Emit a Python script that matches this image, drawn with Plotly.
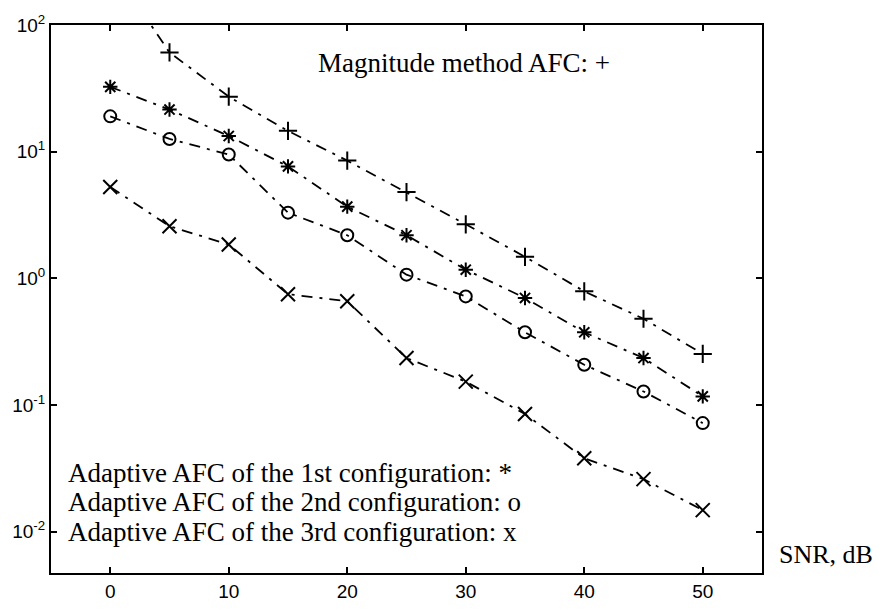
import plotly.graph_objects as go

snr = [0, 5, 10, 15, 20, 25, 30, 35, 40, 45, 50]
magnitude = [300, 60.7, 27.2, 14.6, 8.5, 4.8, 2.67, 1.48, 0.79, 0.48, 0.253]
adaptive1 = [32.5, 21.5, 13.3, 7.65, 3.68, 2.19, 1.17, 0.70, 0.375, 0.235, 0.117]
adaptive2 = [19.0, 12.6, 9.5, 3.3, 2.19, 1.07, 0.72, 0.375, 0.208, 0.128, 0.072]
adaptive3 = [5.26, 2.58, 1.85, 0.75, 0.66, 0.235, 0.153, 0.085, 0.038, 0.026, 0.0148]

x_ticks = [0, 10, 20, 30, 40, 50]
y_ticks = [0.01, 0.1, 1, 10, 100]
y_ticktext = ["10<sup>-2</sup>", "10<sup>-1</sup>", "10<sup>0</sup>", "10<sup>1</sup>", "10<sup>2</sup>"]

series = [
    (magnitude, "cross-thin-open", 13),
    (adaptive1, "asterisk-open", 12),
    (adaptive2, "circle-open", 12),
    (adaptive3, "x-thin-open", 14),
]

fig = go.Figure()
for vals, sym, size in series:
    fig.add_trace(go.Scatter(
        x=snr, y=vals, mode="lines+markers",
        line=dict(color="black", width=1.8, dash="11px,7px,3px,7px"),
        marker=dict(symbol=sym, size=size, color="black", line=dict(color="black", width=2)),
        showlegend=False, cliponaxis=True,
    ))

serif = "Liberation Serif, Times New Roman, serif"

annots = [
    ("Magnitude method AFC: +", 315, 63, 27),
    ("Adaptive AFC of the 1st configuration: *", 65, 480, 27),
    ("Adaptive AFC of the 2nd configuration: o", 65, 510, 27),
    ("Adaptive AFC of the 3rd configuration: x", 65, 540, 27),
    ("SNR, dB", 777, 563, 26),
]
W, H = 879, 614
L, R, T, B = 50, 762, 24, 582
for txt, px, py, fs in annots:
    fig.add_annotation(
        text=txt, showarrow=False,
        xref="paper", yref="paper",
        x=(px - L) / (R - L), y=1 - (py - T) / (B - T),
        xanchor="left", yanchor="middle",
        font=dict(family=serif, size=fs, color="black"),
    )

fig.update_layout(
    width=W, height=H,
    margin=dict(l=L, r=W - R, t=T, b=H - B, pad=0),
    plot_bgcolor="white", paper_bgcolor="white",
    xaxis=dict(
        range=[-5, 55], tickvals=x_ticks, ticks="inside", ticklen=6, tickwidth=2,
        tickcolor="black", showline=True, linecolor="black", linewidth=2, mirror="ticks",
        showgrid=False, zeroline=False,
        tickfont=dict(family="Liberation Sans, Arial, sans-serif", size=19, color="black"),
    ),
    yaxis=dict(
        type="log", range=[-2.326, 2], tickvals=y_ticks, ticktext=y_ticktext,
        ticks="inside", ticklen=6, tickwidth=2, tickcolor="black",
        showline=True, linecolor="black", linewidth=2, mirror="ticks",
        showgrid=False, zeroline=False,
        tickfont=dict(family="Liberation Sans, Arial, sans-serif", size=19, color="black"),
    ),
)

fig.write_html("out.html")
